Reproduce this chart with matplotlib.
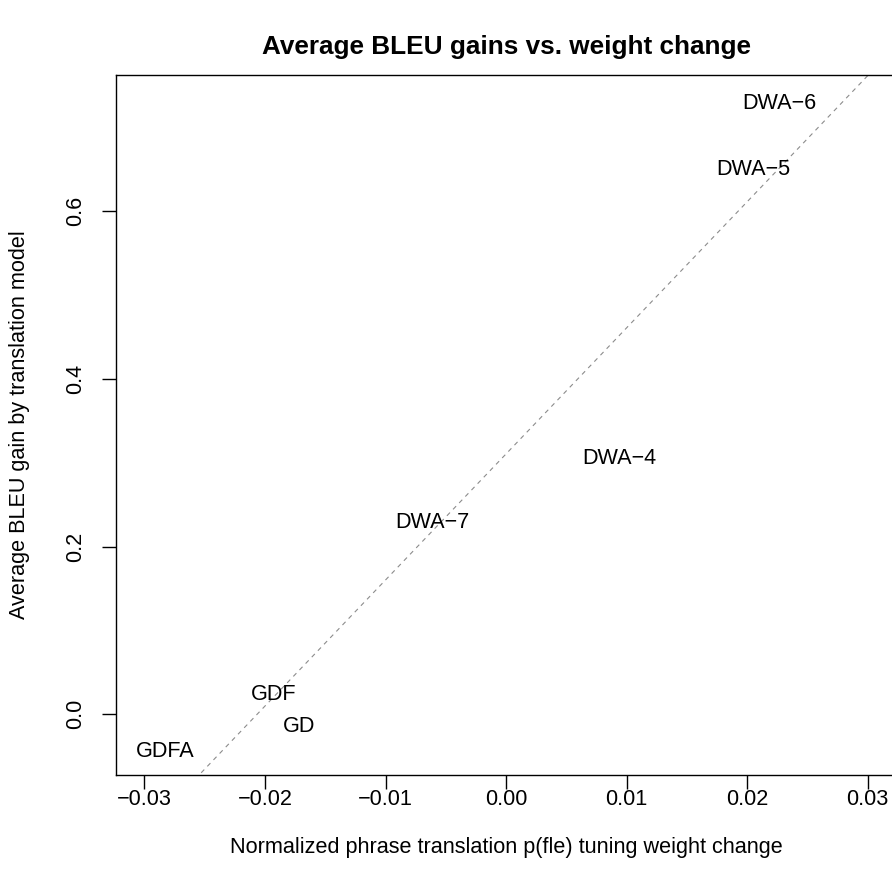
import numpy as np
import matplotlib
matplotlib.use("Agg")
import matplotlib.pyplot as plt

plt.rcParams['font.family'] = ['Liberation Sans', 'DejaVu Sans']
plt.rcParams['axes.unicode_minus'] = True

# Per-model results: tuning weight change vs. average BLEU gain
models = ["GDFA", "GDF", "GD", "DWA\u22127", "DWA\u22124", "DWA\u22125", "DWA\u22126"]
weight_change = [-0.02828, -0.01925, -0.01719, -0.00612, 0.00943, 0.02048, 0.02270]
bleu_gain = [-0.0408, 0.0265, -0.0116, 0.2320, 0.3087, 0.6533, 0.7319]

x_ticks = [-0.03, -0.02, -0.01, 0.00, 0.01, 0.02, 0.03]
x_tick_labels = ["\u22120.03", "\u22120.02", "\u22120.01", "0.00", "0.01", "0.02", "0.03"]
y_ticks = [0.0, 0.2, 0.4, 0.6]
y_tick_labels = ["0.0", "0.2", "0.4", "0.6"]

W, H = 892, 881
fig = plt.figure(figsize=(W / 100, H / 100), dpi=100)

# plot region in pixels (the right edge runs slightly past the canvas)
left_px, right_px, top_px, bottom_px = 115.5, 896.6, 74.7, 774.5
ax = fig.add_axes([left_px / W, 1 - bottom_px / H,
                   (right_px - left_px) / W, (bottom_px - top_px) / H])

x = np.array(weight_change)
y = np.array(bleu_gain)

ax.set_xlim(-0.0324, 0.0324)
yr = y.max() - y.min()
ax.set_ylim(y.min() - 0.04 * yr, y.max() + 0.04 * yr)

# least-squares fit line
slope, intercept = np.polyfit(x, y, 1)
xs = np.array([-0.04, 0.04])
ax.plot(xs, intercept + slope * xs, color="#8c8c8c", lw=0.8,
        linestyle=(0, (4, 4)), zorder=1)

FS = 15.6
for name, xi, yi in zip(models, weight_change, bleu_gain):
    ax.text(xi, yi, name, ha="center", va="center_baseline", fontsize=FS,
            color="black", zorder=2)

for s in ax.spines.values():
    s.set_linewidth(1.0)
    s.set_color("black")

ax.set_xticks(x_ticks)
ax.set_xticklabels(x_tick_labels)
ax.set_yticks(y_ticks)
ax.set_yticklabels(y_tick_labels, rotation=90, va="center")
ax.tick_params(axis="both", direction="out", length=10, width=1.0,
               labelsize=FS, colors="black")
ax.tick_params(axis="x", pad=0.5)
ax.tick_params(axis="y", pad=11.5)

ax.set_title("Average BLEU gains vs. weight change", fontsize=18.8,
             fontweight="bold", y=(bottom_px - 47) / (bottom_px - top_px),
             va="center", pad=0)
ax.set_xlabel("Normalized phrase translation p(fle) tuning weight change",
              fontsize=FS, va="center")
ax.xaxis.set_label_coords(0.5, -(848 - bottom_px) / (bottom_px - top_px))
ax.set_ylabel("Average BLEU gain by translation model", fontsize=FS,
              va="center")
ax.yaxis.set_label_coords(-(115.5 - 20) / (right_px - left_px), 0.5)

fig.savefig("out.png", dpi=100)
